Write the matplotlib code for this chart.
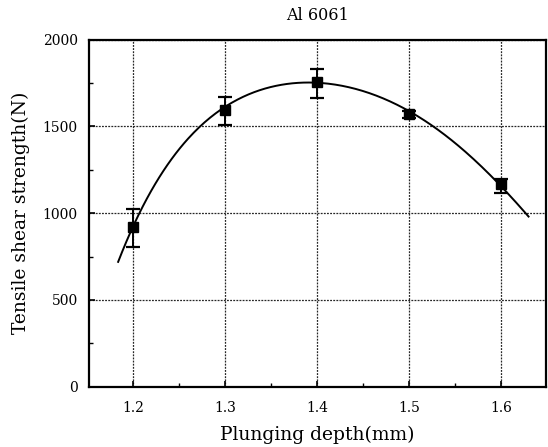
import matplotlib as mpl
import matplotlib.pyplot as plt
import numpy as np
from matplotlib.ticker import MultipleLocator

mpl.rcParams["font.family"] = ["DejaVu Serif"]

# measured points with error bars
depth = [1.2, 1.3, 1.4, 1.5, 1.6]
strength = [922, 1594, 1753, 1569, 1166]
err_low = [116, 87, 92, 22, 48]
err_high = [101, 73, 75, 22, 30]

# trend curve
curve_x = [1.1837, 1.1964, 1.2037, 1.2109, 1.229, 1.2472, 1.278, 1.2944, 1.3198,
           1.3452, 1.3706, 1.3888, 1.4033, 1.454, 1.5, 1.5249, 1.5702, 1.6003, 1.630]
curve_y = [695, 864, 993, 1075, 1229, 1344, 1494, 1565, 1661,
           1732, 1767, 1771, 1761, 1680, 1569, 1498, 1325, 1166, 970]

fig = plt.figure(figsize=(5.48, 4.47), dpi=100)
ax = fig.add_axes([0.1624, 0.1349, 0.8340, 0.7767])

# smooth line through the read curve points
cx = np.array(curve_x)
coef = np.polyfit(cx - 1.4, np.array(curve_y, dtype=float), 5)
xs = np.linspace(cx.min(), cx.max(), 300)
ax.plot(xs, np.polyval(coef, xs - 1.4), color="black", lw=1.4, zorder=3)

ax.errorbar(depth, strength, yerr=[err_low, err_high], fmt="s", color="black",
            ms=7.5, capsize=4.7, elinewidth=1.4, capthick=1.6, zorder=4)

ax.set_xlim(1.152, 1.649)
ax.set_ylim(0, 2000)
ax.set_xticks(depth)
ax.set_xticklabels([f"{v:.1f}" for v in depth])
ax.set_yticks([0, 500, 1000, 1500, 2000])
ax.xaxis.set_minor_locator(MultipleLocator(0.05))
ax.yaxis.set_minor_locator(MultipleLocator(250))
ax.tick_params(which="both", direction="in", labelsize=10)
ax.tick_params(which="major", length=4, width=1.2)
ax.tick_params(which="minor", length=3, width=1.0)
ax.tick_params(axis="x", pad=10)
ax.tick_params(axis="y", pad=8)

ax.grid(which="major", color="0.15", linestyle=(0, (1.5, 1)), linewidth=0.9)
ax.set_axisbelow(True)
for s in ax.spines.values():
    s.set_linewidth(1.6)

ax.set_title("Al 6061", fontsize=11.5, pad=14)
ax.set_xlabel("Plunging depth(mm)", fontsize=13.5, labelpad=8)
ax.set_ylabel("Tensile shear strength(N)", fontsize=13.5, labelpad=9)

plt.savefig("out.png", dpi=100)
plt.close()
